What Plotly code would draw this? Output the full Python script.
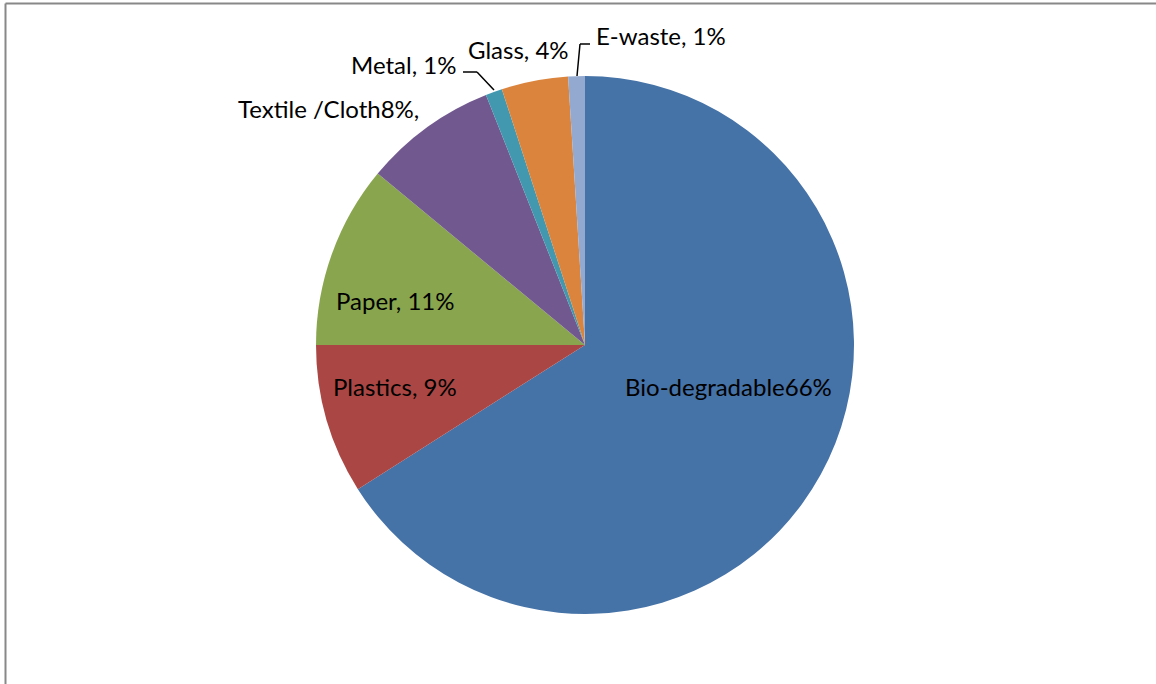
import plotly.graph_objects as go

categories = ["Bio-degradable", "Plastics", "Paper", "Textile /Cloth", "Metal", "Glass", "E-waste"]
values = [66, 9, 11, 8, 1, 4, 1]
label_texts = ["Bio-degradable66%", "Plastics, 9%", "Paper, 11%", "Textile /Cloth8%,",
               "Metal, 1%", "Glass, 4%", "E-waste, 1%"]
colors = ["#4572A7", "#AA4643", "#89A54E", "#71588F", "#4198AF", "#DB843D", "#93A9CF"]

W, H = 1156, 684
cx, cy, r = 585, 345, 269

fig = go.Figure(go.Pie(
    labels=categories,
    values=values,
    sort=False,
    direction="clockwise",
    rotation=0,
    textinfo="none",
    hoverinfo="label+percent",
    marker=dict(colors=colors, line=dict(width=0)),
    showlegend=False,
    domain=dict(x=[(cx - r) / W, (cx + r) / W], y=[1 - (cy + r) / H, 1 - (cy - r) / H]),
))

# label centres in pixels
label_pos = [(729, 386), (395, 386), (395, 300), (329, 109), (403, 64), (518, 50), (661, 36)]
for t, (px, py) in zip(label_texts, label_pos):
    fig.add_annotation(x=px / W, y=1 - py / H, xref="paper", yref="paper", text=t,
                       showarrow=False, xanchor="center", yanchor="middle",
                       font=dict(family="Lato, Carlito, sans-serif", size=24, color="#000000"))

def seg(x0, y0, x1, y1, color="#000000", w=1.5):
    fig.add_shape(type="line", xref="paper", yref="paper",
                  x0=x0 / W, y0=1 - y0 / H, x1=x1 / W, y1=1 - y1 / H,
                  line=dict(color=color, width=w))

# leader lines
seg(463, 72, 477, 72)
seg(477, 72, 494, 90)
seg(580, 44, 590, 44)
seg(580, 44, 577, 76)

# chart border (left and top visible)
seg(5.5, 3.5, 1160, 3.5, color="#888888", w=2)
seg(5.5, 3.5, 5.5, 690, color="#888888", w=2)

fig.update_layout(width=W, height=H, margin=dict(l=0, r=0, t=0, b=0),
                  paper_bgcolor="white", plot_bgcolor="white")
fig.write_html("out.html", config={"displayModeBar": False},
               post_script="document.body.style.margin='0';document.body.style.overflow='hidden';")
